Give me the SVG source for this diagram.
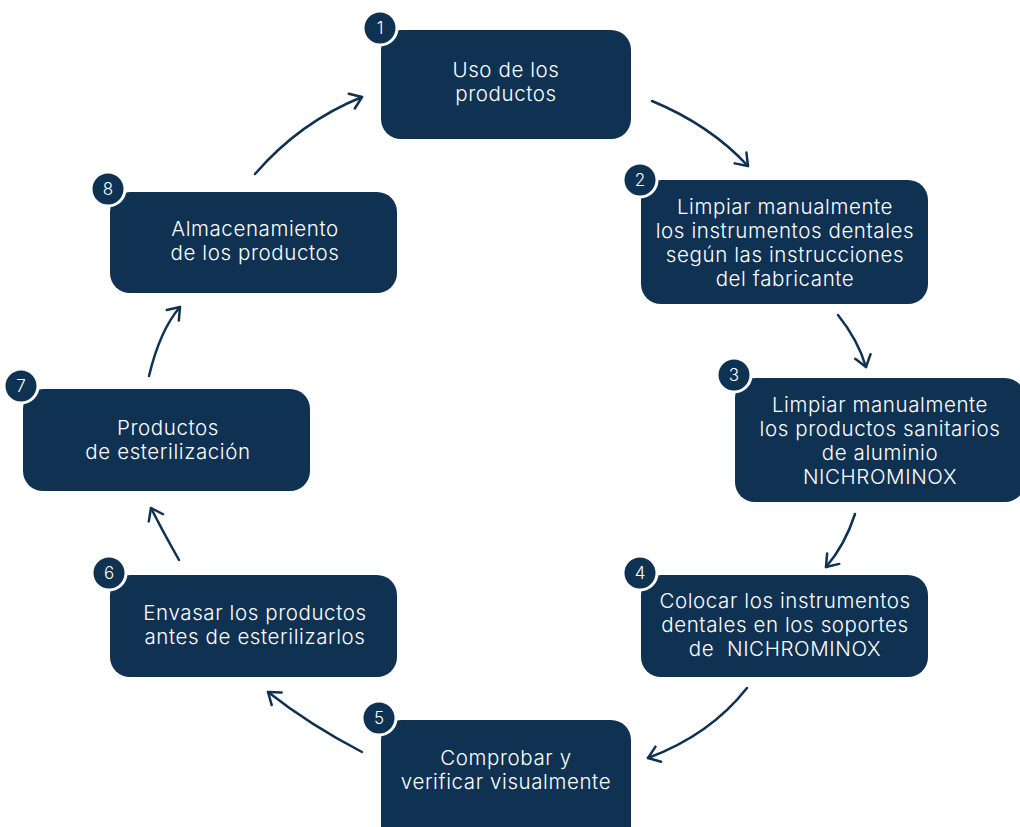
<svg xmlns="http://www.w3.org/2000/svg" width="1020" height="827" viewBox="0 0 1020 827">
<style>
.box{fill:#0f3253}
.badge{fill:#0f3253;stroke:#ffffff;stroke-width:3}
.t{font-family:Inter,"Liberation Sans",sans-serif;font-size:20.5px;font-weight:300;letter-spacing:0.6px;fill:#ffffff;text-anchor:middle;white-space:pre}
.n{font-family:Inter,"Liberation Sans",sans-serif;font-size:17px;font-weight:300;fill:#ffffff;text-anchor:middle}
.c{fill:none;stroke:#0f3253;stroke-width:2.5;stroke-linecap:round}
</style>
<defs>
<marker id="ah" markerUnits="userSpaceOnUse" markerWidth="30" markerHeight="30" refX="0" refY="0" viewBox="-15 -15 30 30" orient="auto" overflow="visible">
<path d="M-11,-8 L0,0 L-11,8" fill="none" stroke="#0f3253" stroke-width="2.5" stroke-linecap="round" stroke-linejoin="round"/>
</marker>
</defs>
<rect width="1020" height="827" fill="#ffffff"/>
<g id="connectors">
<path class="c" d="M652,101 Q710,125 748,166" marker-end="url(#ah)"/>
<path class="c" d="M838,315 Q858,340 866,367" marker-end="url(#ah)"/>
<path class="c" d="M855,514 Q845,545 826,567" marker-end="url(#ah)"/>
<path class="c" d="M747,688 Q710,735 648,758" marker-end="url(#ah)"/>
<path class="c" d="M362,752 Q310,725 268,692" marker-end="url(#ah)"/>
<path class="c" d="M179,560 Q162,530 151,508" marker-end="url(#ah)"/>
<path class="c" d="M149,376 Q160,330 180,307" marker-end="url(#ah)"/>
<path class="c" d="M255,174 Q300,122 362,97" marker-end="url(#ah)"/>
</g>
<g id="node1">
<rect class="box" x="381" y="30" width="250" height="109" rx="20"/>
<text class="t" x="506" y="77">Uso de los</text>
<text class="t" x="506" y="101">productos</text>
<circle class="badge" cx="380" cy="28" r="17"/>
<text class="n" x="380" y="34">1</text>
</g>
<g id="node2">
<rect class="box" x="641" y="180" width="287" height="124" rx="20"/>
<text class="t" x="785" y="214">Limpiar manualmente</text>
<text class="t" x="785" y="238">los instrumentos dentales</text>
<text class="t" x="785" y="262">según las instrucciones</text>
<text class="t" x="785" y="286">del fabricante</text>
<circle class="badge" cx="640" cy="180" r="17"/>
<text class="n" x="640" y="186">2</text>
</g>
<g id="node3">
<rect class="box" x="735" y="378" width="290" height="124" rx="20"/>
<text class="t" x="880" y="412">Limpiar manualmente</text>
<text class="t" x="880" y="436">los productos sanitarios</text>
<text class="t" x="880" y="460">de aluminio</text>
<text class="t" x="880" y="484">NICHROMINOX</text>
<circle class="badge" cx="734" cy="375" r="17"/>
<text class="n" x="734" y="381">3</text>
</g>
<g id="node4">
<rect class="box" x="641" y="575" width="287" height="102" rx="20"/>
<text class="t" x="785" y="608">Colocar los instrumentos</text>
<text class="t" x="785" y="632">dentales en los soportes</text>
<text class="t" x="785" y="656" xml:space="preserve">de  NICHROMINOX</text>
<circle class="badge" cx="640" cy="573" r="17"/>
<text class="n" x="640" y="579">4</text>
</g>
<g id="node5">
<rect class="box" x="381" y="720" width="250" height="130" rx="20"/>
<text class="t" x="506" y="765">Comprobar y</text>
<text class="t" x="506" y="789">verificar visualmente</text>
<circle class="badge" cx="379" cy="718" r="17"/>
<text class="n" x="379" y="724">5</text>
</g>
<g id="node6">
<rect class="box" x="110" y="575" width="287" height="102" rx="20"/>
<text class="t" x="255" y="620">Envasar los productos</text>
<text class="t" x="255" y="644">antes de esterilizarlos</text>
<circle class="badge" cx="109" cy="573" r="17"/>
<text class="n" x="109" y="579">6</text>
</g>
<g id="node7">
<rect class="box" x="23" y="389" width="287" height="102" rx="20"/>
<text class="t" x="168" y="435">Productos</text>
<text class="t" x="168" y="459">de esterilización</text>
<circle class="badge" cx="21" cy="386" r="17"/>
<text class="n" x="21" y="392">7</text>
</g>
<g id="node8">
<rect class="box" x="110" y="192" width="287" height="101" rx="20"/>
<text class="t" x="255" y="236">Almacenamiento</text>
<text class="t" x="255" y="260">de los productos</text>
<circle class="badge" cx="108" cy="189" r="17"/>
<text class="n" x="108" y="195">8</text>
</g>
</svg>
